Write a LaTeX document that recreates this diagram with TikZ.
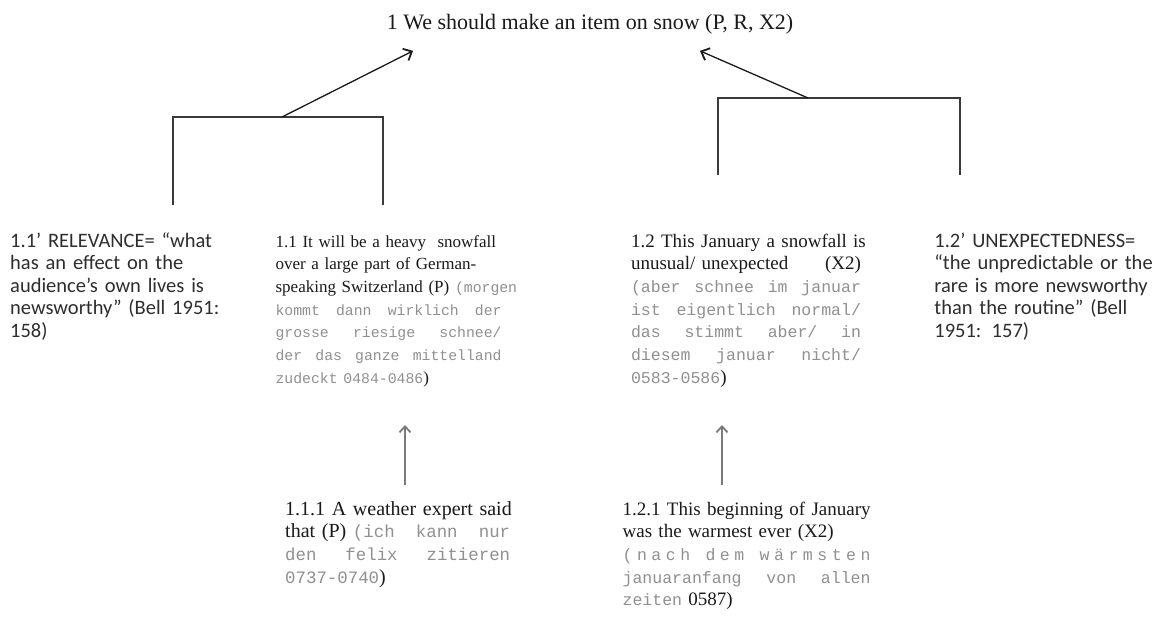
\documentclass[tikz,border=0pt]{standalone}
\usepackage{fontspec}
\setmainfont{Liberation Serif}
\newfontfamily\monof[Scale=0.87]{Liberation Mono}
\newfontfamily\calf{Carlito}
\usetikzlibrary{arrows.meta,positioning}
\definecolor{SnowInk}{HTML}{1A1A1A}
\definecolor{SnowSans}{HTML}{2E2E2E}
\definecolor{SnowQuote}{HTML}{909090}
\definecolor{SnowLine}{HTML}{3A3A3A}
\definecolor{SnowShaft}{HTML}{7A7A7A}
\newcommand\jl[1]{\makebox[\linewidth][s]{#1}\\}
\newcommand\qt[1]{{\monof\color{SnowQuote}#1}}

\begin{document}
\begin{tikzpicture}[x=1pt,y=-1pt,
  claim/.style={inner sep=0pt,anchor=base west,align=left,text=SnowInk,font=\fontsize{19}{22.7}\selectfont},
  value/.style={inner sep=0pt,anchor=base west,align=left,text=SnowSans,font=\calf\fontsize{20.5}{22.6}\selectfont},
  bracket/.style={draw=SnowLine,line width=1.3pt},
  arrow/.style={-{Straight Barb[length=7pt,width=13pt,line width=1.8pt]},draw=SnowInk,line width=1.3pt},
  support/.style={-{Straight Barb[length=6pt,width=11pt,line width=1.8pt]},draw=SnowShaft,line width=1.4pt}
]
\path[use as bounding box,fill=white] (0,0) rectangle (1173,632);
\node[claim,anchor=base,font=\fontsize{22}{26}\selectfont] (goal) at (590,29) {1 We should make an item on snow (P, R, X2)};
\node[value,text width=226pt] (relev) at (10,247) {%
\jl{1.1’ RELEVANCE= “what}
\jl{has an effect on the}
\jl{audience’s own lives is}
\jl{newsworthy” (Bell 1951:}
158)};
\node[claim,text width=226pt,font=\fontsize{17}{22.7}\selectfont,base right=39pt of relev] (heavy) {%
\jl{1.1 It will be a heavy\ \ snowfall}
\jl{over a large part of German-}
\jl{speaking Switzerland (P) \qt{(morgen}}
\jl{\qt{kommt \hfill dann \hfill wirklich \hfill der}}
\jl{\qt{grosse \hfill riesige \hfill schnee/}}
\jl{\qt{der \hfill das \hfill ganze \hfill mittelland}}
\qt{zudeckt 0484-0486})};
\node[claim,text width=230pt,base right=129pt of heavy] (unusual) {%
\jl{1.2 This January a snowfall is}
\jl{unusual/ unexpected \hfill (X2)}
\jl{\qt{(aber \hfill schnee \hfill im \hfill januar}}
\jl{\qt{ist \hfill eigentlich \hfill normal/}}
\jl{\qt{das \hfill stimmt \hfill aber/ \hfill in}}
\jl{\qt{diesem \hfill januar \hfill nicht/}}
\qt{0583-0586})};
\node[value,text width=232pt,base right=73pt of unusual] (unexp) {%
\jl{1.2’ UNEXPECTEDNESS=}
\jl{“the unpredictable or the}
\jl{rare is more newsworthy}
\jl{than the routine” (Bell}
1951: 157)};
\node[claim,text width=225pt,font=\fontsize{20}{22.7}\selectfont] (expert) at (285,515) {%
\jl{1.1.1 A weather expert said}
\jl{that (P) \qt{(ich \hfill kann \hfill nur}}
\jl{\qt{den \hfill felix \hfill zitieren}}
\qt{0737-0740})};
\node[claim,text width=248pt,base right=112pt of expert] (warmest) {%
\jl{1.2.1 This beginning of January}
\jl{was the warmest ever (X2)}
\jl{\qt{(\hfill n\hfill a\hfill c\hfill h\hfill\ \hfill d\hfill e\hfill m\hfill\ \hfill w\hfill ä\hfill r\hfill m\hfill s\hfill t\hfill e\hfill n}}
\jl{\qt{januaranfang \hfill von \hfill allen}}
\qt{zeiten} 0587)};
\coordinate (relleg) at (173,205);
\coordinate (heavyleg) at (383,205);
\coordinate (relhub) at (282,117);
\coordinate (unuleg) at (718,175);
\coordinate (unexpleg) at (960,175);
\coordinate (unxhub) at (808,98);
\coordinate (expertfoot) at (405,485);
\coordinate (expertup) at (405,425);
\coordinate (warmfoot) at (722,485);
\coordinate (warmup) at (722,425);
\draw[bracket] (relleg) |- (relhub) -| (heavyleg);
\draw[bracket] (unuleg) |- (unxhub) -| (unexpleg);
\draw[arrow] (relhub) -- ([shift={(-177,17)}]goal.south);
\draw[arrow] (unxhub) -- ([shift={(110,17)}]goal.south);
\draw[support] (expertfoot) -- (expertup);
\draw[support] (warmfoot) -- (warmup);
\end{tikzpicture}
\end{document}
